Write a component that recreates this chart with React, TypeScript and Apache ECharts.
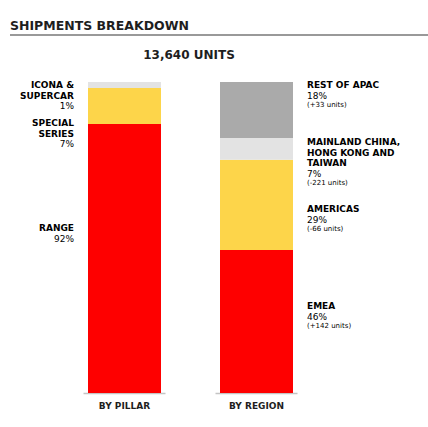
import { useEffect, useRef } from "react";
import * as echarts from "echarts";

// bars
const categories = ["BY PILLAR", "BY REGION"];
const segmentColors = ["#fe0000", "#fdd54a", "#e3e3e3", "#aaaaaa"];
// shares as drawn, bottom to top, for each category
const redShares = [86.5, 46];
const yellowShares = [11.6, 29];
const lightGreyShares = [1.9, 7];
const greyShares = [0, 18];

// labels
const pillarNames = [["ICONA &", "SUPERCAR"], ["SPECIAL", "SERIES"], ["RANGE"]];
const pillarPcts = ["1%", "7%", "92%"];
const regionNames = [
  ["REST OF APAC"],
  ["MAINLAND CHINA,", "HONG KONG AND", "TAIWAN"],
  ["AMERICAS"],
  ["EMEA"],
];
const regionPcts = ["18%", "7%", "29%", "46%"];
const regionUnits = ["(+33 units)", "(-221 units)", "(-66 units)", "(+142 units)"];

const FONT = "'DejaVu Sans', sans-serif";

const rich = {
  name: { fontSize: 9, fontWeight: "bold", color: "#1e1e1e", lineHeight: 10.5, fontFamily: FONT },
  pct: { fontSize: 9, color: "#606060", lineHeight: 10.5, fontFamily: FONT },
  units: { fontSize: 7, color: "#606060", lineHeight: 8, fontFamily: FONT },
};

function blockText(names: string[], pct: string, units?: string) {
  const lines = names.map((n) => `{name|${n}}`);
  lines.push(`{pct|${pct}}`);
  if (units) lines.push(`{units|${units}}`);
  return lines.join("\n");
}

export default function App() {
  const chartRef = useRef(null);

  useEffect(() => {
    const chart = echarts.init(chartRef.current, null, { renderer: "svg" });

    const pillarTops = [80, 118, 223];
    const regionTops = [80, 137, 204, 301];

    const labelGraphics: any[] = [];
    pillarNames.forEach((names, i) => {
      labelGraphics.push({
        type: "text",
        x: 74,
        y: pillarTops[i],
        style: {
          text: blockText(names, pillarPcts[i]),
          rich,
          align: "right",
          verticalAlign: "top",
        },
      });
    });
    regionNames.forEach((names, i) => {
      labelGraphics.push({
        type: "text",
        x: 307,
        y: regionTops[i],
        style: {
          text: blockText(names, regionPcts[i], regionUnits[i]),
          rich,
          align: "left",
          verticalAlign: "top",
        },
      });
    });

    const stackSeries = [redShares, yellowShares, lightGreyShares, greyShares].map((d, i) => ({
      type: "bar",
      stack: "total",
      barWidth: 73,
      data: d,
      itemStyle: { color: segmentColors[i] },
      silent: true,
    }));

    const options = {
      animation: false,
      grid: { left: 58.5, right: 105.5, top: 82, bottom: 34 },
      xAxis: {
        type: "category",
        data: categories,
        axisLine: { show: false },
        axisTick: { show: false },
        axisLabel: {
          fontSize: 9,
          fontWeight: "bold",
          color: "#1e1e1e",
          fontFamily: FONT,
          margin: 8,
        },
      },
      yAxis: {
        type: "value",
        min: 0,
        max: 100,
        show: false,
      },
      graphic: [
        {
          type: "text",
          x: 10,
          y: 19,
          style: {
            text: "SHIPMENTS BREAKDOWN",
            fontSize: 12.5,
            fontWeight: "bold",
            fill: "#1e1e1e",
            fontFamily: FONT,
          },
        },
        {
          type: "line",
          shape: { x1: 10, y1: 35, x2: 428, y2: 35 },
          style: { stroke: "#777", lineWidth: 1.5 },
        },
        {
          type: "text",
          x: 189,
          y: 48.5,
          style: {
            text: "13,640 UNITS",
            fontSize: 12,
            fontWeight: "bold",
            fill: "#1e1e1e",
            fontFamily: FONT,
            align: "center",
          },
        },
        ...labelGraphics,
      ],
      series: [
        ...stackSeries,
        {
          type: "custom",
          silent: true,
          data: [
            [0, 0],
            [1, 0],
          ],
          renderItem: (params: any, api: any) => {
            const p = api.coord([api.value(0), api.value(1)]);
            const half = 41;
            return {
              type: "line",
              shape: { x1: p[0] - half, y1: p[1] + 0.5, x2: p[0] + half, y2: p[1] + 0.5 },
              style: { stroke: "#c4c4c4", lineWidth: 1.5 },
            };
          },
        },
      ],
    };

    chart.setOption(options);

    return () => {
      chart.dispose();
    };
  }, []);

  return (
    <div
      ref={chartRef}
      style={{ position: "absolute", left: 0, top: 0, width: "428px", height: "427px", background: "#fff" }}
    />
  );
}
